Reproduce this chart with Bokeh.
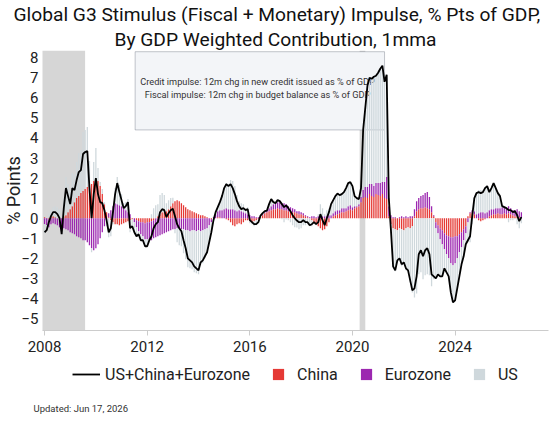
import numpy as np
from bokeh.plotting import figure
from bokeh.layouts import column
from bokeh.models import (ColumnDataSource, Range1d, FixedTicker, BoxAnnotation,
                          Label, Legend, LegendItem, Title)
from bokeh.embed import file_html
from bokeh.resources import INLINE

# Monthly series starting January 2008, % pts of GDP
start_year = 2008

# Combined impulse (US + China + Eurozone)
total = [
    -0.7, -0.6, -0.2, 0.1, 0.3, 0.3, 0.2, 0.0, -0.8, 0.5, 1.5, 1.1,
    0.7, 1.5, 1.4, 1.9, 2.3, 2.4, 3.2, 3.3, 3.35, 1.5, 0.0, 1.2,
    2.0, 1.2, 0.8, 0.75, 0.4, -0.1, -0.7, -0.5, 0.3, 1.2, 1.75, 1.3,
    0.9, 0.5, 0.6, 0.8, -0.5, -0.4, -0.7, -0.9, -0.8, -1.1, -1.1, -1.4,
    -1.4, -1.1, -0.9, -0.5, -0.3, -0.2, 0.3, 0.45, 0.4, 0.05, 0.25, 0.4,
    0.47, 0.1, -0.3, -0.5, -0.65, -1.1, -1.5, -2.0, -2.1, -2.2, -2.4, -2.5,
    -2.6, -2.2, -2.1, -1.9, -1.7, -1.2, -0.7, -0.1, 0.3, 0.55, 0.8, 1.1,
    1.5, 1.7, 1.6, 1.7, 1.5, 1.2, 0.85, 0.6, 0.45, 0.5, 0.4, 0.45,
    -0.1, -0.2, -0.3, -0.3, -0.2, 0.13, 0.25, 0.35, 0.38, 0.7, 0.95, 0.8,
    0.75, 0.9, 0.85, 0.7, 0.55, 0.64, 0.5, 0.35, 0.15, 0.0, -0.12, -0.2,
    -0.2, -0.1, -0.2, -0.2, -0.35, -0.3, -0.2, -0.3, -0.2, 0.2, -0.1, -0.35,
    0.0, 0.3, 0.7, 0.9, 1.1, 1.23, 1.15, 1.2, 1.3, 1.5, 1.75, 1.8,
    1.6, 1.1, 1.0, 0.95, 1.5, 4.4, 5.5, 6.6, 7.0, 6.95, 7.05, 7.1,
    7.25, 7.45, 7.6, 6.8, 7.15, 1.0, -0.6, -2.4, -2.6, -2.1, -2.0, -2.3,
    -2.2, -2.5, -2.6, -3.1, -3.6, -3.5, -2.9, -1.8, -1.6, -1.9, -1.6, -1.5,
    -1.8, -2.8, -2.9, -3.0, -2.8, -2.9, -2.9, -2.5, -2.7, -2.9, -3.7, -4.2,
    -4.1, -3.5, -2.9, -2.3, -1.9, -1.3, -1.1, -0.9, 0.1, 1.0, 1.25, 1.3,
    1.25, 1.3, 1.5, 1.6, 1.3, 1.5, 1.75, 1.5, 1.25, 1.1, 0.6, 0.55,
    0.5, 0.4, 0.4, 0.3, 0.35, 0.15, -0.15, 0.05,
]

# China contribution
china = [
    0.05, 0.0, -0.05, 0.05, 0.1, 0.05, 0.0, -0.05, 0.0, 0.1, 0.15, 0.3,
    0.45, 0.6, 0.8, 1.0, 1.1, 1.25, 1.35, 1.45, 1.55, 1.65, 1.7, 1.85,
    1.9, 1.85, 1.6, 1.2, 0.7, 0.3, 0.05, -0.1, -0.2, -0.3, -0.3, -0.35,
    -0.3, -0.25, -0.2, -0.15, -0.1, -0.05, 0.0, -0.1, -0.15, -0.2, -0.2, -0.25,
    -0.2, -0.2, -0.15, -0.1, 0.0, 0.1, 0.2, 0.3, 0.3, 0.35, 0.45, 0.6,
    0.75, 0.85, 0.9, 0.85, 0.75, 0.65, 0.55, 0.45, 0.4, 0.35, 0.3, 0.25,
    0.2, 0.15, 0.15, 0.1, 0.05, 0.0, -0.05, 0.0, 0.0, 0.05, 0.05, 0.0,
    0.0, -0.05, -0.1, -0.2, -0.35, -0.4, -0.3, -0.25, -0.3, -0.2, -0.1, -0.1,
    -0.15, -0.2, -0.15, -0.1, -0.05, 0.05, 0.15, 0.25, 0.3, 0.35, 0.4, 0.45,
    0.45, 0.5, 0.45, 0.45, 0.4, 0.4, 0.35, 0.35, 0.3, 0.3, 0.25, 0.2,
    0.2, 0.15, 0.1, 0.05, 0.0, -0.1, -0.2, -0.3, -0.4, -0.5, -0.6, -0.55,
    -0.4, -0.2, 0.0, 0.1, 0.15, 0.2, 0.25, 0.3, 0.3, 0.35, 0.4, 0.45,
    0.4, 0.5, 0.55, 0.6, 0.8, 1.0, 1.05, 1.0, 1.2, 1.1, 1.05, 1.2,
    1.15, 1.1, 1.2, 1.0, 0.95, 0.1, -0.3, -0.5, -0.55, -0.6, -0.5, -0.55,
    -0.6, -0.5, -0.45, -0.5, -0.4, 0.1, 0.35, 0.45, 0.5, 0.5, 0.55, 0.5,
    0.45, 0.3, 0.1, -0.2, -0.35, -0.5, -0.6, -0.75, -0.85, -0.9, -0.95, -0.95,
    -0.9, -0.9, -0.8, -0.7, -0.55, -0.4, 0.1, 0.25, 0.3, 0.2, 0.0, -0.1,
    -0.15, -0.1, -0.05, 0.0, 0.1, 0.15, 0.2, 0.2, 0.25, 0.2, 0.2, 0.25,
    0.2, 0.25, 0.2, 0.15, 0.1, 0.1, 0.05, 0.0,
]

# Eurozone contribution
eurozone = [
    -0.3, -0.35, -0.4, -0.3, -0.25, -0.3, -0.35, -0.4, -0.45, -0.5, -0.55, -0.6,
    -0.7, -0.75, -0.8, -0.9, -0.95, -1.0, -1.1, -1.1, -1.2, -1.35, -1.5, -1.6,
    -1.5, -1.3, -1.0, -0.7, -0.4, -0.1, 0.2, 0.4, 0.6, 0.75, 0.7, 0.65,
    0.6, 0.5, 0.4, 0.3, 0.2, 0.0, -0.2, -0.35, -0.5, -0.6, -0.7, -0.8,
    -0.85, -0.9, -0.95, -0.9, -0.95, -0.9, -0.85, -0.8, -0.75, -0.7, -0.65, -0.6,
    -0.55, -0.55, -0.5, -0.5, -0.55, -0.55, -0.6, -0.6, -0.65, -0.6, -0.6, -0.65,
    -0.6, -0.65, -0.6, -0.55, -0.5, -0.35, -0.15, 0.05, 0.2, 0.3, 0.35, 0.4,
    0.45, 0.5, 0.45, 0.45, 0.45, 0.4, 0.35, 0.4, 0.35, 0.3, 0.25, 0.2,
    0.15, 0.1, 0.1, 0.05, 0.05, 0.0, 0.05, 0.05, 0.1, 0.15, 0.2, 0.25,
    0.3, 0.3, 0.35, 0.3, 0.35, 0.3, 0.25, 0.2, 0.2, 0.15, 0.1, 0.15,
    0.1, 0.1, 0.05, 0.05, 0.05, 0.1, 0.1, 0.05, 0.1, 0.05, 0.1, 0.1,
    0.1, 0.15, 0.15, 0.15, 0.2, 0.2, 0.15, 0.2, 0.2, 0.15, 0.2, 0.2,
    0.15, 0.1, 0.05, 0.1, 0.25, 0.4, 0.5, 0.55, 0.5, 0.6, 0.55, 0.55,
    0.6, 0.65, 0.6, 0.8, 1.1, 0.5, 0.15, 0.05, 0.05, 0.0, 0.05, 0.1,
    0.05, 0.1, 0.05, 0.1, 0.1, 0.35, 0.5, 0.55, 0.6, 0.65, 0.7, 0.8,
    0.6, 0.3, 0.05, -0.3, -0.4, -0.55, -0.7, -0.8, -0.95, -1.1, -1.3, -1.4,
    -1.35, -1.1, -0.9, -0.75, -0.55, -0.35, -0.2, 0.05, 0.1, 0.15, 0.2, 0.25,
    0.3, 0.3, 0.25, 0.3, 0.3, 0.3, 0.25, 0.3, 0.25, 0.3, 0.35, 0.3,
    0.3, 0.35, 0.3, 0.25, 0.3, 0.35, 0.3, 0.3,
]

x_ticks = [2008, 2012, 2016, 2020, 2024]
y_ticks = list(range(-5, 9))

# Recession periods (fractional years)
recession_start = [2007.8, 2020.28]
recession_end = [2009.58, 2020.5]

FONT = "Roboto"
COL_CHINA = "#e53935"
COL_EZ = "#9c27b0"
COL_US = "#cfd8dc"

n = len(total)
months = start_year + np.arange(n) / 12.0
total_a = np.array(total)
china_a = np.array(china)
ez_a = np.array(eurozone)
# US contribution is what remains of the combined impulse
us_a = total_a - china_a - ez_a

# Stack positives upward and negatives downward, China nearest zero
pos = np.zeros(n)
neg = np.zeros(n)
stacked = []
for vals in (china_a, ez_a, us_a):
    base = np.where(vals >= 0, pos, neg)
    top = base + vals
    pos = np.where(vals >= 0, top, pos)
    neg = np.where(vals < 0, top, neg)
    stacked.append((base, top))

# ---------------- main chart ----------------
p = figure(width=550, height=354, output_backend="svg", toolbar_location=None,
           x_range=Range1d(2007.92, 2027.64), y_range=Range1d(-5.6, 8.36),
           min_border_left=0, min_border_right=2, min_border_top=0,
           min_border_bottom=0, title=None)
p.xgrid.visible = False
p.ygrid.visible = False
p.outline_line_color = None
p.border_fill_color = "white"

for s, e in zip(recession_start, recession_end):
    p.add_layout(BoxAnnotation(left=s, right=e, fill_color="#d6d6d6",
                               fill_alpha=1.0, line_color=None, level="underlay"))

# Definitions box
p.add_layout(BoxAnnotation(left=2011.53, right=2021.25, bottom=4.4, top=8.3,
                           fill_color="#f3f5f8", fill_alpha=1.0,
                           line_color="#3b4656", line_width=1, level="underlay"))
p.add_layout(Label(x=2016.3, y=6.8, text="Credit impulse: 12m chg in new credit issued as % of GDP",
                   text_align="center", text_baseline="middle", text_font=FONT,
                   text_font_size="9.2px", text_color="#333333", level="underlay"))
p.add_layout(Label(x=2016.3, y=6.15, text="Fiscal impulse: 12m chg in budget balance as % of GDP",
                   text_align="center", text_baseline="middle", text_font=FONT,
                   text_font_size="9.2px", text_color="#333333", level="underlay"))

bar_w = 0.6 / 12
colors = [COL_CHINA, COL_EZ, COL_US]
for (base, top), col in zip(stacked, colors):
    src = ColumnDataSource(dict(x=months, bottom=base, top=top))
    p.vbar(x="x", width=bar_w, bottom="bottom", top="top", source=src,
           fill_color=col, line_color=None)

line_src = ColumnDataSource(dict(x=months, y=total_a))
p.line(x="x", y="y", source=line_src, line_color="black", line_width=1.8)

xa = p.xaxis[0]
xa.ticker = FixedTicker(ticks=x_ticks)
xa.axis_line_color = "#cccccc"
xa.major_tick_line_color = "#cccccc"
xa.major_tick_in = 0
xa.major_tick_out = 5
xa.minor_tick_line_color = None
xa.major_label_text_font = FONT
xa.major_label_text_font_size = "15px"
xa.major_label_text_color = "#222222"

ya = p.yaxis[0]
ya.ticker = FixedTicker(ticks=y_ticks)
ya.major_label_overrides = {t: ("\u2212" + str(abs(t)) if t < 0 else str(t)) for t in y_ticks}
ya.axis_line_color = None
ya.major_tick_line_color = None
ya.minor_tick_line_color = None
ya.major_tick_out = 0
ya.major_tick_in = 0
ya.major_label_standoff = 4
ya.major_label_text_font = FONT
ya.major_label_text_font_size = "15px"
ya.major_label_text_color = "#222222"
ya.axis_label = "% Points"
ya.axis_label_text_font = FONT
ya.axis_label_text_font_size = "18px"
ya.axis_label_text_font_style = "normal"
ya.axis_label_text_color = "#222222"
ya.axis_label_standoff = -6

p.add_layout(Title(text="By GDP Weighted Contribution, 1mma", align="left", offset=72,
                   text_font=FONT, text_font_size="19.2px", text_font_style="normal",
                   text_color="#111111", standoff=0), "above")
p.add_layout(Title(text="Global G3 Stimulus (Fiscal + Monetary) Impulse, % Pts of GDP,",
                   align="left", offset=-29, text_font=FONT, text_font_size="19.2px",
                   text_font_style="normal", text_color="#111111", standoff=0), "above")

# ---------------- legend strip ----------------
leg = figure(width=550, height=71, output_backend="svg", toolbar_location=None,
             x_range=Range1d(0, 1), y_range=Range1d(0, 1),
             x_axis_location=None, y_axis_location=None,
             min_border_left=0, min_border_right=2, min_border_top=0,
             min_border_bottom=0, title=None)
leg.xgrid.visible = False
leg.ygrid.visible = False
leg.outline_line_color = None

# Key glyphs only: a single undrawn point so the legend has something to draw
k_line = leg.line(x=[np.nan], y=[np.nan], line_color="black", line_width=1.8)
k_china = leg.scatter(x=[np.nan], y=[np.nan], marker="square", size=12,
                      fill_color=COL_CHINA, line_color=None)
k_ez = leg.scatter(x=[np.nan], y=[np.nan], marker="square", size=12,
                   fill_color=COL_EZ, line_color=None)
k_us = leg.scatter(x=[np.nan], y=[np.nan], marker="square", size=12,
                   fill_color=COL_US, line_color=None)

legend = Legend(items=[LegendItem(label="US+China+Eurozone", renderers=[k_line]),
                       LegendItem(label="China", renderers=[k_china]),
                       LegendItem(label="Eurozone", renderers=[k_ez]),
                       LegendItem(label="US", renderers=[k_us])],
                orientation="horizontal", location="top_center",
                border_line_color=None, background_fill_alpha=0,
                glyph_width=28, glyph_height=30, label_standoff=5, spacing=14,
                padding=4, margin=5, label_text_font=FONT,
                label_text_font_size="16px", label_text_color="#222222")
leg.add_layout(legend)

leg.add_layout(Title(text="Updated: Jun 17, 2026", align="left", offset=-9,
                     vertical_align="top", text_font=FONT, text_font_size="9.5px",
                     text_font_style="normal", text_color="#333333", standoff=20),
               "below")

layout = column(p, leg, spacing=0)
open("out.html", "w").write(file_html(layout, INLINE))
